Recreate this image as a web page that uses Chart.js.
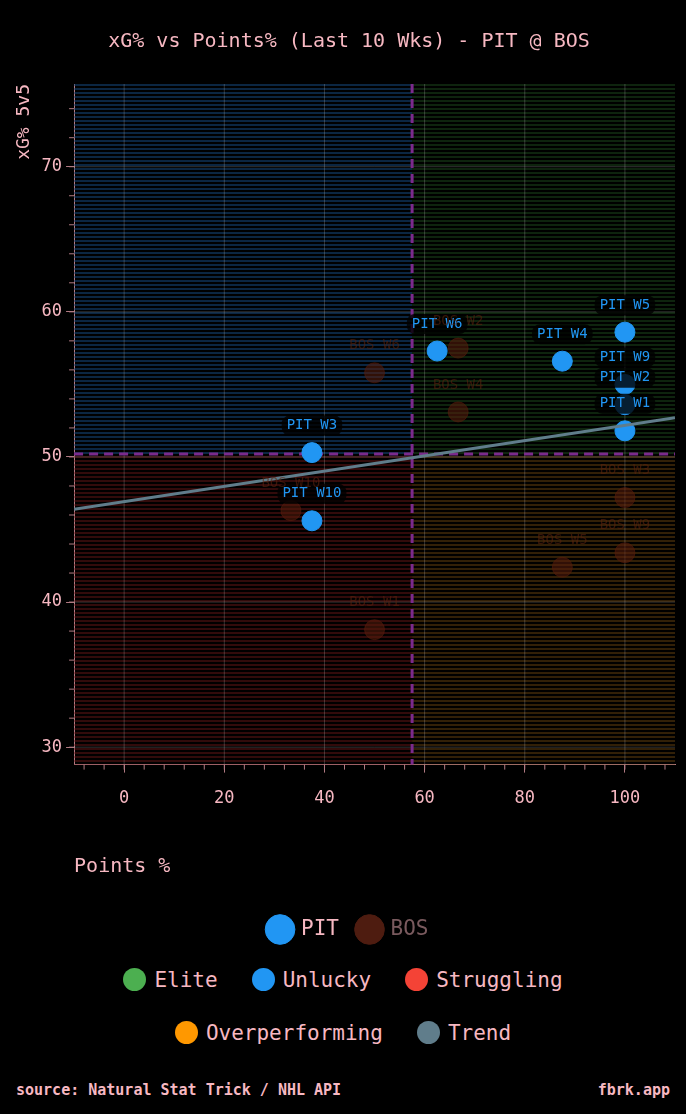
<!DOCTYPE html>
<html>
<head>
<meta charset="utf-8">
<script src="https://cdn.jsdelivr.net/npm/chart.js@4"></script>
<style>
  body { margin: 0; background: #000; width: 686px; height: 1114px; overflow: hidden; font-family: "DejaVu Sans Mono", monospace; color: #f7b8c2; }
  #wrap { position: relative; width: 686px; height: 950px; }
  canvas { display: block; }
  .leg { display: flex; justify-content: center; gap: 34px; font-size: 21px; height: 53px; align-items: center; }
  .leg span { display: flex; align-items: center; }
  .dot { width: 23px; height: 23px; border-radius: 50%; display: inline-block; margin-right: 8px; }
  #foot { display: flex; justify-content: space-between; padding: 0 16px; font-size: 15px; font-weight: bold; margin-top: 22px; }
</style>
</head>
<body>
<div id="wrap"><canvas id="myChart" width="686" height="950"></canvas></div>
<div class="leg" style="margin-top:3px"><span><i class="dot" style="background:#4caf50"></i>Elite</span><span><i class="dot" style="background:#2196f3"></i>Unlucky</span><span><i class="dot" style="background:#f44336"></i>Struggling</span></div>
<div class="leg"><span><i class="dot" style="background:#ff9800"></i>Overperforming</span><span><i class="dot" style="background:#607d8b"></i>Trend</span></div>
<div id="foot"><span>source: Natural Stat Trick / NHL API</span><span>fbrk.app</span></div>
<script>
let pitLabels = ["PIT W1", "PIT W2", "PIT W3", "PIT W4", "PIT W5", "PIT W6", "PIT W9", "PIT W10"];
let pitX = [100, 100, 37.5, 87.5, 100, 62.5, 100, 37.5];
let pitY = [51.8, 53.6, 50.3, 56.6, 58.6, 57.3, 55.0, 45.6];
let bosLabels = ["BOS W1", "BOS W2", "BOS W3", "BOS W4", "BOS W5", "BOS W6", "BOS W9", "BOS W10"];
let bosX = [50, 66.7, 100, 66.7, 87.5, 50, 100, 33.3];
let bosY = [38.1, 57.5, 47.2, 53.1, 42.4, 55.8, 43.4, 46.3];
let trendX = [-10, 110];
let trendY = [46.4, 52.7];
let avgX = 57.5;
let avgY = 50.2;
let xTicks = [0, 20, 40, 60, 80, 100];
let yTicks = [30, 40, 50, 60, 70];

function pts(xs, ys) {
    let out = [];
    for (let i in xs) out.push({ x: xs[i], y: ys[i] });
    return out;
}

function stripe(ctx, color) {
    let c = document.createElement('canvas');
    c.width = 4; c.height = 4;
    let g = c.getContext('2d');
    g.fillStyle = color;
    g.fillRect(0, 0, 4, 2);
    return ctx.createPattern(c, 'repeat');
}

const quadPlugin = {
    id: 'quads',
    beforeDatasetsDraw(chart) {
        let ctx = chart.ctx, a = chart.chartArea;
        let x = chart.scales.x, y = chart.scales.y;
        let mx = x.getPixelForValue(avgX), my = y.getPixelForValue(avgY);
        ctx.save();
        ctx.fillStyle = stripe(ctx, 'rgba(20,70,120,0.55)');
        ctx.fillRect(a.left, a.top, mx - a.left, my - a.top);
        ctx.fillStyle = stripe(ctx, 'rgba(30,80,30,0.45)');
        ctx.fillRect(mx, a.top, a.right - mx, my - a.top);
        ctx.fillStyle = stripe(ctx, 'rgba(110,25,25,0.45)');
        ctx.fillRect(a.left, my, mx - a.left, a.bottom - my);
        ctx.fillStyle = stripe(ctx, 'rgba(110,70,15,0.45)');
        ctx.fillRect(mx, my, a.right - mx, a.bottom - my);
        // grid over stripes
        ctx.strokeStyle = 'rgba(200,200,200,0.25)';
        ctx.lineWidth = 1;
        xTicks.forEach(v => { let p = x.getPixelForValue(v); ctx.beginPath(); ctx.moveTo(p, a.top); ctx.lineTo(p, a.bottom); ctx.stroke(); });
        yTicks.forEach(v => { let p = y.getPixelForValue(v); ctx.beginPath(); ctx.moveTo(a.left, p); ctx.lineTo(a.right, p); ctx.stroke(); });
        // minor ticks
        ctx.strokeStyle = '#b07a82';
        for (let v = -8; v <= 110; v += 4) { let p = x.getPixelForValue(v); ctx.beginPath(); ctx.moveTo(p, a.bottom); ctx.lineTo(p, a.bottom + 5); ctx.stroke(); }
        for (let v = 30; v <= 75; v += 2) { let p = y.getPixelForValue(v); ctx.beginPath(); ctx.moveTo(a.left, p); ctx.lineTo(a.left - 5, p); ctx.stroke(); }
        // average lines
        ctx.strokeStyle = '#7b2a8c';
        ctx.lineWidth = 3;
        ctx.setLineDash([9, 6]);
        ctx.beginPath(); ctx.moveTo(mx, a.top); ctx.lineTo(mx, a.bottom); ctx.stroke();
        ctx.beginPath(); ctx.moveTo(a.left, my); ctx.lineTo(a.right, my); ctx.stroke();
        ctx.restore();
    }
};

const labelPlugin = {
    id: 'ptLabels',
    afterDatasetsDraw(chart) {
        let ctx = chart.ctx;
        ctx.save();
        ctx.font = '14px "DejaVu Sans Mono"';
        ctx.textAlign = 'center';
        ctx.textBaseline = 'middle';
        chart.data.datasets.forEach((ds, di) => {
            if (!ds.names) return;
            chart.getDatasetMeta(di).data.forEach((el, i) => {
                let t = ds.names[i];
                let w = ctx.measureText(t).width + 10;
                let cy = el.y - 27;
                if (ds.boxed) {
                    ctx.fillStyle = 'rgba(0,0,0,0.8)';
                    ctx.beginPath(); ctx.roundRect(el.x - w / 2, cy - 10, w, 20, 8); ctx.fill();
                }
                ctx.fillStyle = ds.labelColor;
                ctx.fillText(t, el.x, cy);
            });
        });
        ctx.restore();
    }
};

let canvas = document.getElementById('myChart');
let pink = '#f7b8c2';
let mono = '"DejaVu Sans Mono", monospace';

new Chart(canvas, {
    type: 'scatter',
    data: {
        datasets: [{
            label: 'PIT',
            data: pts(pitX, pitY),
            names: pitLabels,
            boxed: true,
            labelColor: '#2196f3',
            backgroundColor: '#2196f3',
            borderColor: '#2196f3',
            pointRadius: 10,
            order: 1
        }, {
            label: 'BOS',
            data: pts(bosX, bosY),
            names: bosLabels,
            labelColor: 'rgba(90,35,15,0.6)',
            backgroundColor: 'rgba(90,30,12,0.55)',
            borderColor: 'rgba(90,30,12,0.55)',
            pointRadius: 10,
            order: 2
        }, {
            label: 'Trend',
            type: 'line',
            data: pts(trendX, trendY),
            borderColor: '#607d8b',
            borderWidth: 3,
            pointRadius: 0,
            order: 0
        }]
    },
    options: {
        responsive: false,
        animation: false,
        devicePixelRatio: 1,
        layout: { padding: { left: 12, right: 0, top: 10 } },
        plugins: {
            title: { display: true, text: 'xG% vs Points% (Last 10 Wks) - PIT @ BOS', color: pink, font: { family: mono, size: 20, weight: 'normal' }, padding: { top: 20, bottom: 30 } },
            legend: {
                position: 'bottom',
                labels: {
                    color: pink,
                    font: { family: mono, size: 21 },
                    usePointStyle: true,
                    pointStyle: 'circle',
                    boxWidth: 23, boxHeight: 23,
                    padding: 20,
                    generateLabels: chart => [
                        { text: 'PIT', fillStyle: '#2196f3', strokeStyle: '#2196f3', fontColor: pink, pointStyle: 'circle', datasetIndex: 0 },
                        { text: 'BOS', fillStyle: '#4e1c10', strokeStyle: '#4e1c10', fontColor: '#7a5a5e', pointStyle: 'circle', datasetIndex: 1 }
                    ]
                }
            },
            tooltip: { enabled: false }
        },
        scales: {
            x: {
                type: 'linear', min: -10, max: 110,
                afterBuildTicks: s => { s.ticks = xTicks.map(v => ({ value: v })); },
                grid: { display: true, drawOnChartArea: false, tickLength: 8, tickColor: '#b07a82' },
                border: { color: '#b07a82' },
                ticks: { color: pink, font: { family: mono, size: 17 }, padding: 16 },
                title: { display: true, text: 'Points %', align: 'start', color: pink, font: { family: mono, size: 20 }, padding: { top: 30, bottom: 20 } }
            },
            y: {
                type: 'linear', min: 28.8, max: 75.7,
                afterBuildTicks: s => { s.ticks = yTicks.map(v => ({ value: v })); },
                grid: { display: true, drawOnChartArea: false, tickLength: 8, tickColor: '#b07a82' },
                border: { color: '#b07a82' },
                ticks: { color: pink, font: { family: mono, size: 17 }, padding: 4 },
                title: { display: true, text: 'xG% 5v5', align: 'end', color: pink, font: { family: mono, size: 18 }, padding: 2 }
            }
        }
    },
    plugins: [quadPlugin, labelPlugin]
});
</script>
</body>
</html>
